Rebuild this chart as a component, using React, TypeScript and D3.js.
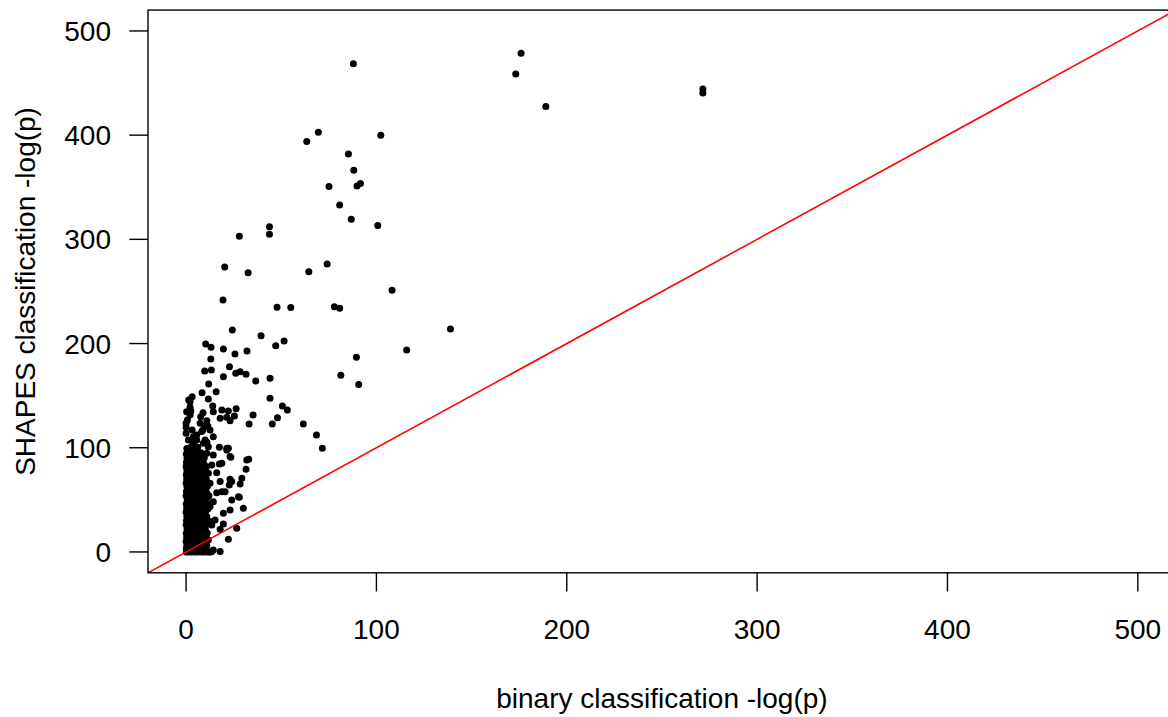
import React from "react";
import * as d3 from "d3";

// x: binary classification -log(p), y: SHAPES classification -log(p)
const outlierPoints: [number, number][] = [
  [87.9, 468.6], [176, 478.6], [173.2, 458.7], [189, 427.4], [271.5, 444.3], [271.5, 440.5],
  [69.5, 402.8], [63.4, 393.8], [102.3, 399.9], [85.3, 382], [88.1, 366.3], [75.1, 350.6],
  [89.8, 351.2], [91.6, 353.5], [80.7, 333], [86.8, 319.3], [100.7, 313.2], [43.8, 312.2],
  [43.8, 304.9], [28, 303], [20.3, 273.5], [32.6, 268], [64.5, 269], [74.1, 276.4],
  [108.2, 251.2], [19.4, 241.8], [77.9, 235.4], [80.7, 233.9], [138.9, 214], [115.9, 193.9],
  [89.5, 186.9], [81.3, 169.6], [90.7, 160.6], [47.8, 234.8], [55, 234.5],
];

const midPoints: [number, number][] = [
  [24.3, 213], [39.4, 207.6], [51.5, 202.5], [47.1, 198], [44.1, 166.7], [44.1, 147.5],
  [50.6, 140.1], [53.2, 136.3], [48, 128.9], [45.3, 122.8], [61.6, 122.8], [68.5, 112.3],
  [71.6, 99.5], [10.3, 199.6], [13.1, 196.4], [19.6, 194.8], [32, 192.9], [25.7, 190],
  [13, 185.2], [22.8, 177.8], [9.8, 173.7], [13.3, 174.7], [19.6, 168.2], [26.1, 171.5],
  [28.4, 173], [31.5, 170.5], [36.6, 164.1], [11.9, 161.2], [8.4, 152.9], [15.8, 153.8],
  [3.2, 149], [11.7, 146.8], [1.4, 145.9], [14, 140.1], [2.1, 138.9], [8.9, 133.7],
  [14.3, 134.6], [18.8, 136.3], [22.2, 135.3], [26.3, 137.5], [2.5, 135.3], [35.2, 131.5],
  [7.7, 129.8], [17.9, 128.3], [21.4, 129.3], [25.4, 130.5], [0.7, 126.7], [10.9, 126],
  [23.1, 126], [33.1, 122.8], [0, 119.7], [7.4, 123.5], [3.2, 117.1], [8.8, 117.1],
  [11.4, 120.9], [1.2, 107.5], [5.6, 107.5], [10.9, 105.3], [17.5, 100.5], [21.4, 99.5],
  [6.1, 100.5], [2.1, 144.2], [0, 123.5], [0, 113.9], [3.8, 110.6], [0.3, 134.6],
  [2.1, 131.5], [8.2, 115.5], [10, 120.9], [12.6, 117.1], [10, 107.5], [14.3, 110.6],
  [11.7, 101], [3.8, 104.3], [5.6, 112.3],
];

const lowerPoints: [number, number][] = [
  [22.2, 99.5], [23.5, 90.9], [32.9, 89], [17.5, 84.5], [31.5, 79.4], [16.1, 76.1],
  [23.1, 69.8], [29.3, 70.7], [28.4, 65.3], [22.7, 64.3], [16.1, 56.9], [20.5, 57.9],
  [24, 49.9], [28, 52.5], [14.3, 48.3], [30.1, 41.9], [23.1, 40.3], [19.6, 37.1],
  [15.2, 30.7], [19.6, 26.9], [26.6, 22.7], [22.2, 12.2], [17.9, 0.5], [14.3, 1.9],
  [17.9, 21.8], [11.7, 11.5], [21.4, 97.9], [23.1, 91.5], [18.8, 85.1], [17.9, 67.5],
  [18.8, 57.9], [24, 67.5], [31.9, 88.3], [27.5, 53.1], [13.5, 29.1], [13.5, 0.3],
  [3.8, 97.9], [9.1, 104.3], [10.9, 94.7], [14.3, 93.1], [13.5, 83.5], [11.7, 75.5],
  [12.6, 65.9], [10.9, 56.3], [12.6, 43.5], [10.9, 33.9], [13.5, 25.9], [9.1, 13.1],
  [11.7, 0.3],
];

const clusterPoints: [number, number][] = [
  [0.2, 0], [1.5, 0], [3.1, 0], [4.8, 0], [6.2, 0], [7.9, 0], [9.4, 0], [11.2, 0], [12.5, 0],
  [0.5, 0.8], [2.4, 0.8], [4, 0.8], [5.5, 0.8], [8.6, 0.8], [10.3, 0.8],
  [0.1, 3], [2, 3], [3.6, 3], [5.9, 3], [7.4, 3], [9.8, 3],
  [0.4, 6], [1.8, 6], [4.4, 6], [6.6, 6], [8.8, 6], [10.9, 6],
  [0, 10], [2.7, 10], [5.1, 10], [7, 10], [9.3, 10],
  [0.3, 14], [1.6, 14], [3.9, 14], [6.1, 14], [8.2, 14], [10.5, 14],
  [0.1, 18], [2.2, 18], [4.6, 18], [6.8, 18], [9, 18],
  [0.5, 22], [3.1, 22], [5.3, 22], [7.7, 22], [10.1, 22],
  [0, 26], [1.9, 26], [4.2, 26], [6.4, 26], [8.6, 26],
  [0.2, 30], [2.6, 30], [4.9, 30], [7.2, 30], [9.7, 30], [11.3, 30],
  [0.4, 34], [1.7, 34], [3.8, 34], [6, 34], [8.3, 34],
  [0, 38], [2.9, 38], [5.2, 38], [7.5, 38], [10.2, 38],
  [0.3, 42], [2.1, 42], [4.4, 42], [6.7, 42], [9.1, 42],
  [0.1, 46], [3.3, 46], [5.6, 46], [8, 46], [11, 46],
  [0.6, 50], [2.4, 50], [4.7, 50], [7.1, 50], [9.4, 50],
  [0, 54], [1.8, 54], [4, 54], [6.3, 54], [8.7, 54], [12, 54],
  [0.2, 58], [3, 58], [5.4, 58], [7.8, 58], [10.3, 58],
  [0.5, 62], [2.2, 62], [4.5, 62], [6.9, 62], [9.2, 62],
  [0, 66], [3.4, 66], [5.8, 66], [8.1, 66],
  [0.3, 70], [1.9, 70], [4.1, 70], [6.5, 70], [10.6, 70],
  [0.1, 74], [2.8, 74], [5, 74], [7.4, 74], [9.6, 74],
  [0.4, 78], [2.3, 78], [4.6, 78], [8.3, 78],
  [0, 82], [3.1, 82], [5.5, 82], [7.2, 82], [10.8, 82],
  [0.2, 86], [2, 86], [4.3, 86], [6.6, 86], [9.1, 86],
  [0.5, 90], [2.9, 90], [5.1, 90], [8, 90],
  [0.1, 94], [3.6, 94], [6.4, 94],
  [1.2, 2], [3.8, 4.5], [6.4, 8.2], [8.5, 12], [1.1, 12.4], [3.4, 16.2], [5.7, 20.1],
  [8.1, 16.5], [1.3, 20.4], [9.5, 24.1], [3.2, 28.3], [5.8, 32.2], [1.1, 36.4], [8.6, 36.1],
  [3.9, 40.2], [7.9, 40.5], [1.5, 44.1], [6.5, 44.2], [4.3, 48.1], [9.8, 47.6], [1.2, 52.3],
  [5.9, 52.1], [3.1, 56.2], [7, 56.4], [1.4, 60.1], [5.9, 60.3], [8.6, 64.2], [2.1, 64.4],
  [4.7, 68.1], [8.2, 68.3], [1.4, 72.2], [6.1, 72.1], [3.9, 76.3], [6.4, 80.1], [1.6, 80.2],
  [8.5, 84.1], [3.7, 84.3], [1.3, 88.2], [6.9, 88.4], [4.2, 92.1], [1.8, 96.1], [9.6, 90.6],
  [10.4, 9.1], [11.1, 18.3], [10.6, 26.4], [11.5, 41.2], [10.8, 50.9], [11.2, 62.7],
  [10.1, 78.4], [9.8, 66.8], [2.6, 100.8], [0.4, 99.2], [5.2, 97.1], [7.8, 95.2],
];

const xTicks = [0, 100, 200, 300, 400, 500];
const yTicks = [0, 100, 200, 300, 400, 500];
const xDomain: [number, number] = [-20, 520];
const yDomain: [number, number] = [-20, 520];
const refLine: [number, number][] = [[-20, -20], [520, 520]];
const xTitle = "binary classification -log(p)";
const yTitle = "SHAPES classification -log(p)";

export default function App() {
  const W = 1168, H = 717;
  const left = 148, top = 10.1, bottom = 572.8;
  const right = left + 540 * 1.9035;
  const x = d3.scaleLinear().domain(xDomain).range([left, right]);
  const y = d3.scaleLinear().domain(yDomain).range([bottom, top]);
  const allPoints = [...clusterPoints, ...lowerPoints, ...midPoints, ...outlierPoints];
  const line = d3.line<[number, number]>().x((d) => x(d[0])).y((d) => y(d[1]));
  const font = "'Liberation Sans', Arial, Helvetica, sans-serif";
  const tickLen = 18.7;
  return (
    <svg width={W} height={H} style={{ position: "absolute", left: 0, top: 0, display: "block", background: "#fff" }}
      fontFamily={font}>
      <defs>
        <clipPath id="plotclip">
          <rect x={left} y={top} width={right - left} height={bottom - top} />
        </clipPath>
      </defs>
      <g clipPath="url(#plotclip)">
        {allPoints.map((d, i) => (
          <circle key={i} cx={x(d[0])} cy={y(d[1])} r={3.5} fill="#000" />
        ))}
        <path d={line(refLine) || ""} stroke="#ff0000" strokeWidth={1.6} fill="none" />
      </g>
      <rect x={left} y={top} width={right - left} height={bottom - top} fill="none" stroke="#000" strokeWidth={1.4} />
      {xTicks.map((t) => (
        <g key={"x" + t}>
          <line x1={x(t)} x2={x(t)} y1={bottom} y2={bottom + tickLen} stroke="#000" strokeWidth={1.4} />
          <text x={x(t)} y={639} textAnchor="middle" fontSize={28} fill="#000">{t}</text>
        </g>
      ))}
      {yTicks.map((t) => (
        <g key={"y" + t}>
          <line x1={left - tickLen} x2={left} y1={y(t)} y2={y(t)} stroke="#000" strokeWidth={1.4} />
          <text x={111} y={y(t) + 10} textAnchor="end" fontSize={28} fill="#000">{t}</text>
        </g>
      ))}
      <text x={(left + right) / 2} y={708} textAnchor="middle" fontSize={28} fill="#000">{xTitle}</text>
      <text transform={`translate(35,${(top + bottom) / 2}) rotate(-90)`} textAnchor="middle" fontSize={28} fill="#000">{yTitle}</text>
    </svg>
  );
}
